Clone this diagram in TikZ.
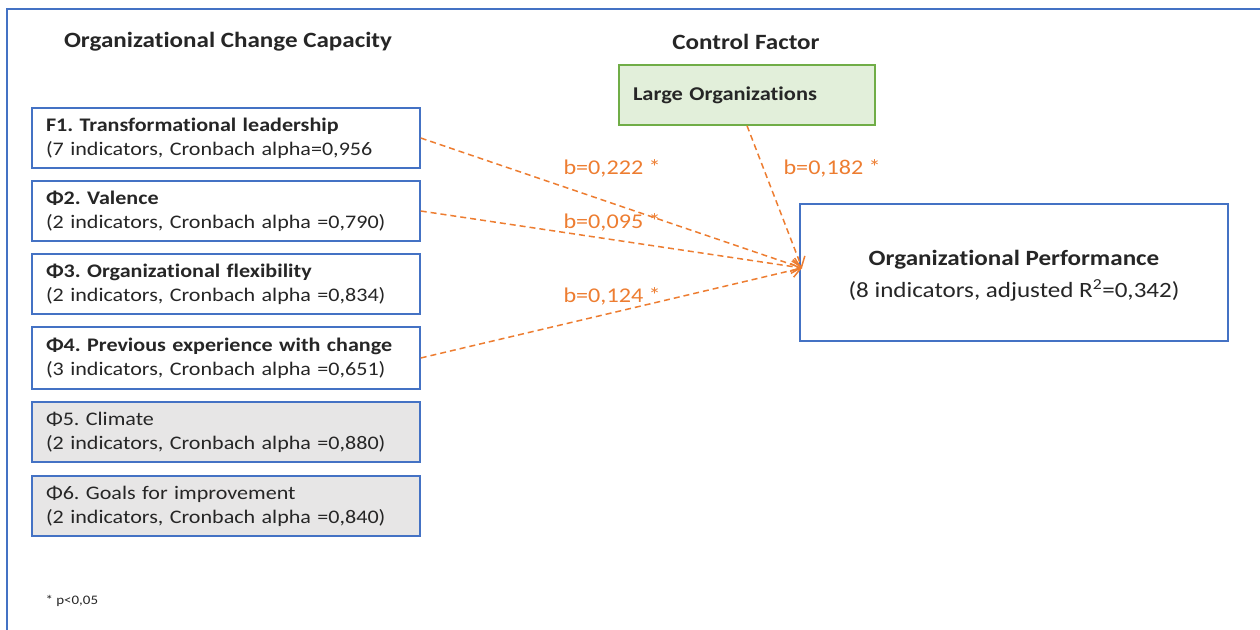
\documentclass[tikz,border=0pt]{standalone}
\usepackage{fontspec}
\setmainfont{Carlito}[FakeStretch=1.15, RawFeature=-liga]
\usetikzlibrary{arrows.meta}
\definecolor{frameblue}{HTML}{4472C4}
\definecolor{boxgray}{HTML}{E7E6E6}
\definecolor{ctrlgreen}{HTML}{E2EFDA}
\definecolor{ctrledge}{HTML}{70AD47}
\definecolor{pathorange}{HTML}{ED7D31}
\frenchspacing
\begin{document}
\begin{tikzpicture}[x=1pt,y=-1pt,
  every node/.style={font=\fontsize{19.5}{24}\selectfont, text=black!85},
  factor/.style={draw=frameblue, line width=1.4pt, fill=white,
    minimum width=388pt, minimum height=60pt, text width=360pt,
    inner xsep=14pt, align=left, font=\fontsize{19.2}{24}\selectfont},
  inactive/.style={factor, fill=boxgray},
  heading/.style={font=\fontsize{21.8}{26}\selectfont\bfseries},
  path/.style={draw=pathorange, line width=1.5pt, dash pattern=on 6pt off 4pt,
    -{Straight Barb[length=9pt,width=14pt,line width=1.5pt]}},
  coef/.style={text=pathorange, font=\fontsize{21}{24}\selectfont}]
\useasboundingbox (0,0) rectangle (1260,629);
% outer frame, running off the right and bottom edges
\draw[frameblue, line width=2pt] (7,640) -- (7,9) -- (1270,9);

% headings
\node[heading] (hocc) at (228,42) {Organizational Change Capacity};
\node[heading] (hctl) at (746,42) {Control Factor};

% factor boxes
\node[factor] (f1) at (226,138) {\textbf{F1. Transformational leadership}\\(7 indicators, Cronbach alpha=0,956};
\node[factor] (f2) at (226,211) {\textbf{Φ2. Valence}\\(2 indicators, Cronbach alpha =0,790)};
\node[factor] (f3) at (226,284) {\textbf{Φ3. Organizational flexibility}\\(2 indicators, Cronbach alpha =0,834)};
\node[factor, minimum height=62pt] (f4) at (226,358) {\textbf{Φ4. Previous experience with change}\\(3 indicators, Cronbach alpha =0,651)};
\node[inactive] (f5) at (226,432) {Φ5. Climate\\(2 indicators, Cronbach alpha =0,880)};
\node[inactive] (f6) at (226,506) {Φ6. Goals for improvement\\(2 indicators, Cronbach alpha =0,840)};

% control factor
\node[draw=ctrledge, fill=ctrlgreen, line width=1.4pt, minimum width=256pt,
  minimum height=60pt, text width=228pt, inner xsep=14pt, align=left]
  (large) at (747,95) {\textbf{Large Organizations}};

% outcome box and its two-line label
\node[draw=frameblue, line width=1.4pt, fill=white, minimum width=428pt,
  minimum height=137pt] (perf) at (1014,272.5) {};
\node[align=center, font=\fontsize{21.8}{32}\selectfont] (perftxt)
  at ([yshift=-3pt]perf.center)
  {\textbf{Organizational Performance}\\(8 indicators, adjusted R\textsuperscript{2}=0,342)};

\coordinate (hit) at (802,268);

% paths
\draw[path] (f1.east) -- (hit);
\draw[path] (f2.east) -- (hit);
\draw[path] (f4.east) -- (hit);
\draw[path] (large.south) -- (hit);

% coefficients
\node[coef, anchor=west] (c1) at (560,168) {b=0,222 *};
\node[coef, anchor=west] (c2) at (560,222) {b=0,095 *};
\node[coef, anchor=west] (c4) at (560,296) {b=0,124 *};
\node[coef, anchor=west] (c5) at (780,168) {b=0,182 *};

% note
\node[anchor=west, font=\fontsize{13}{15}\selectfont] (note) at (42,601) {* p<0,05};
\end{tikzpicture}
\end{document}
